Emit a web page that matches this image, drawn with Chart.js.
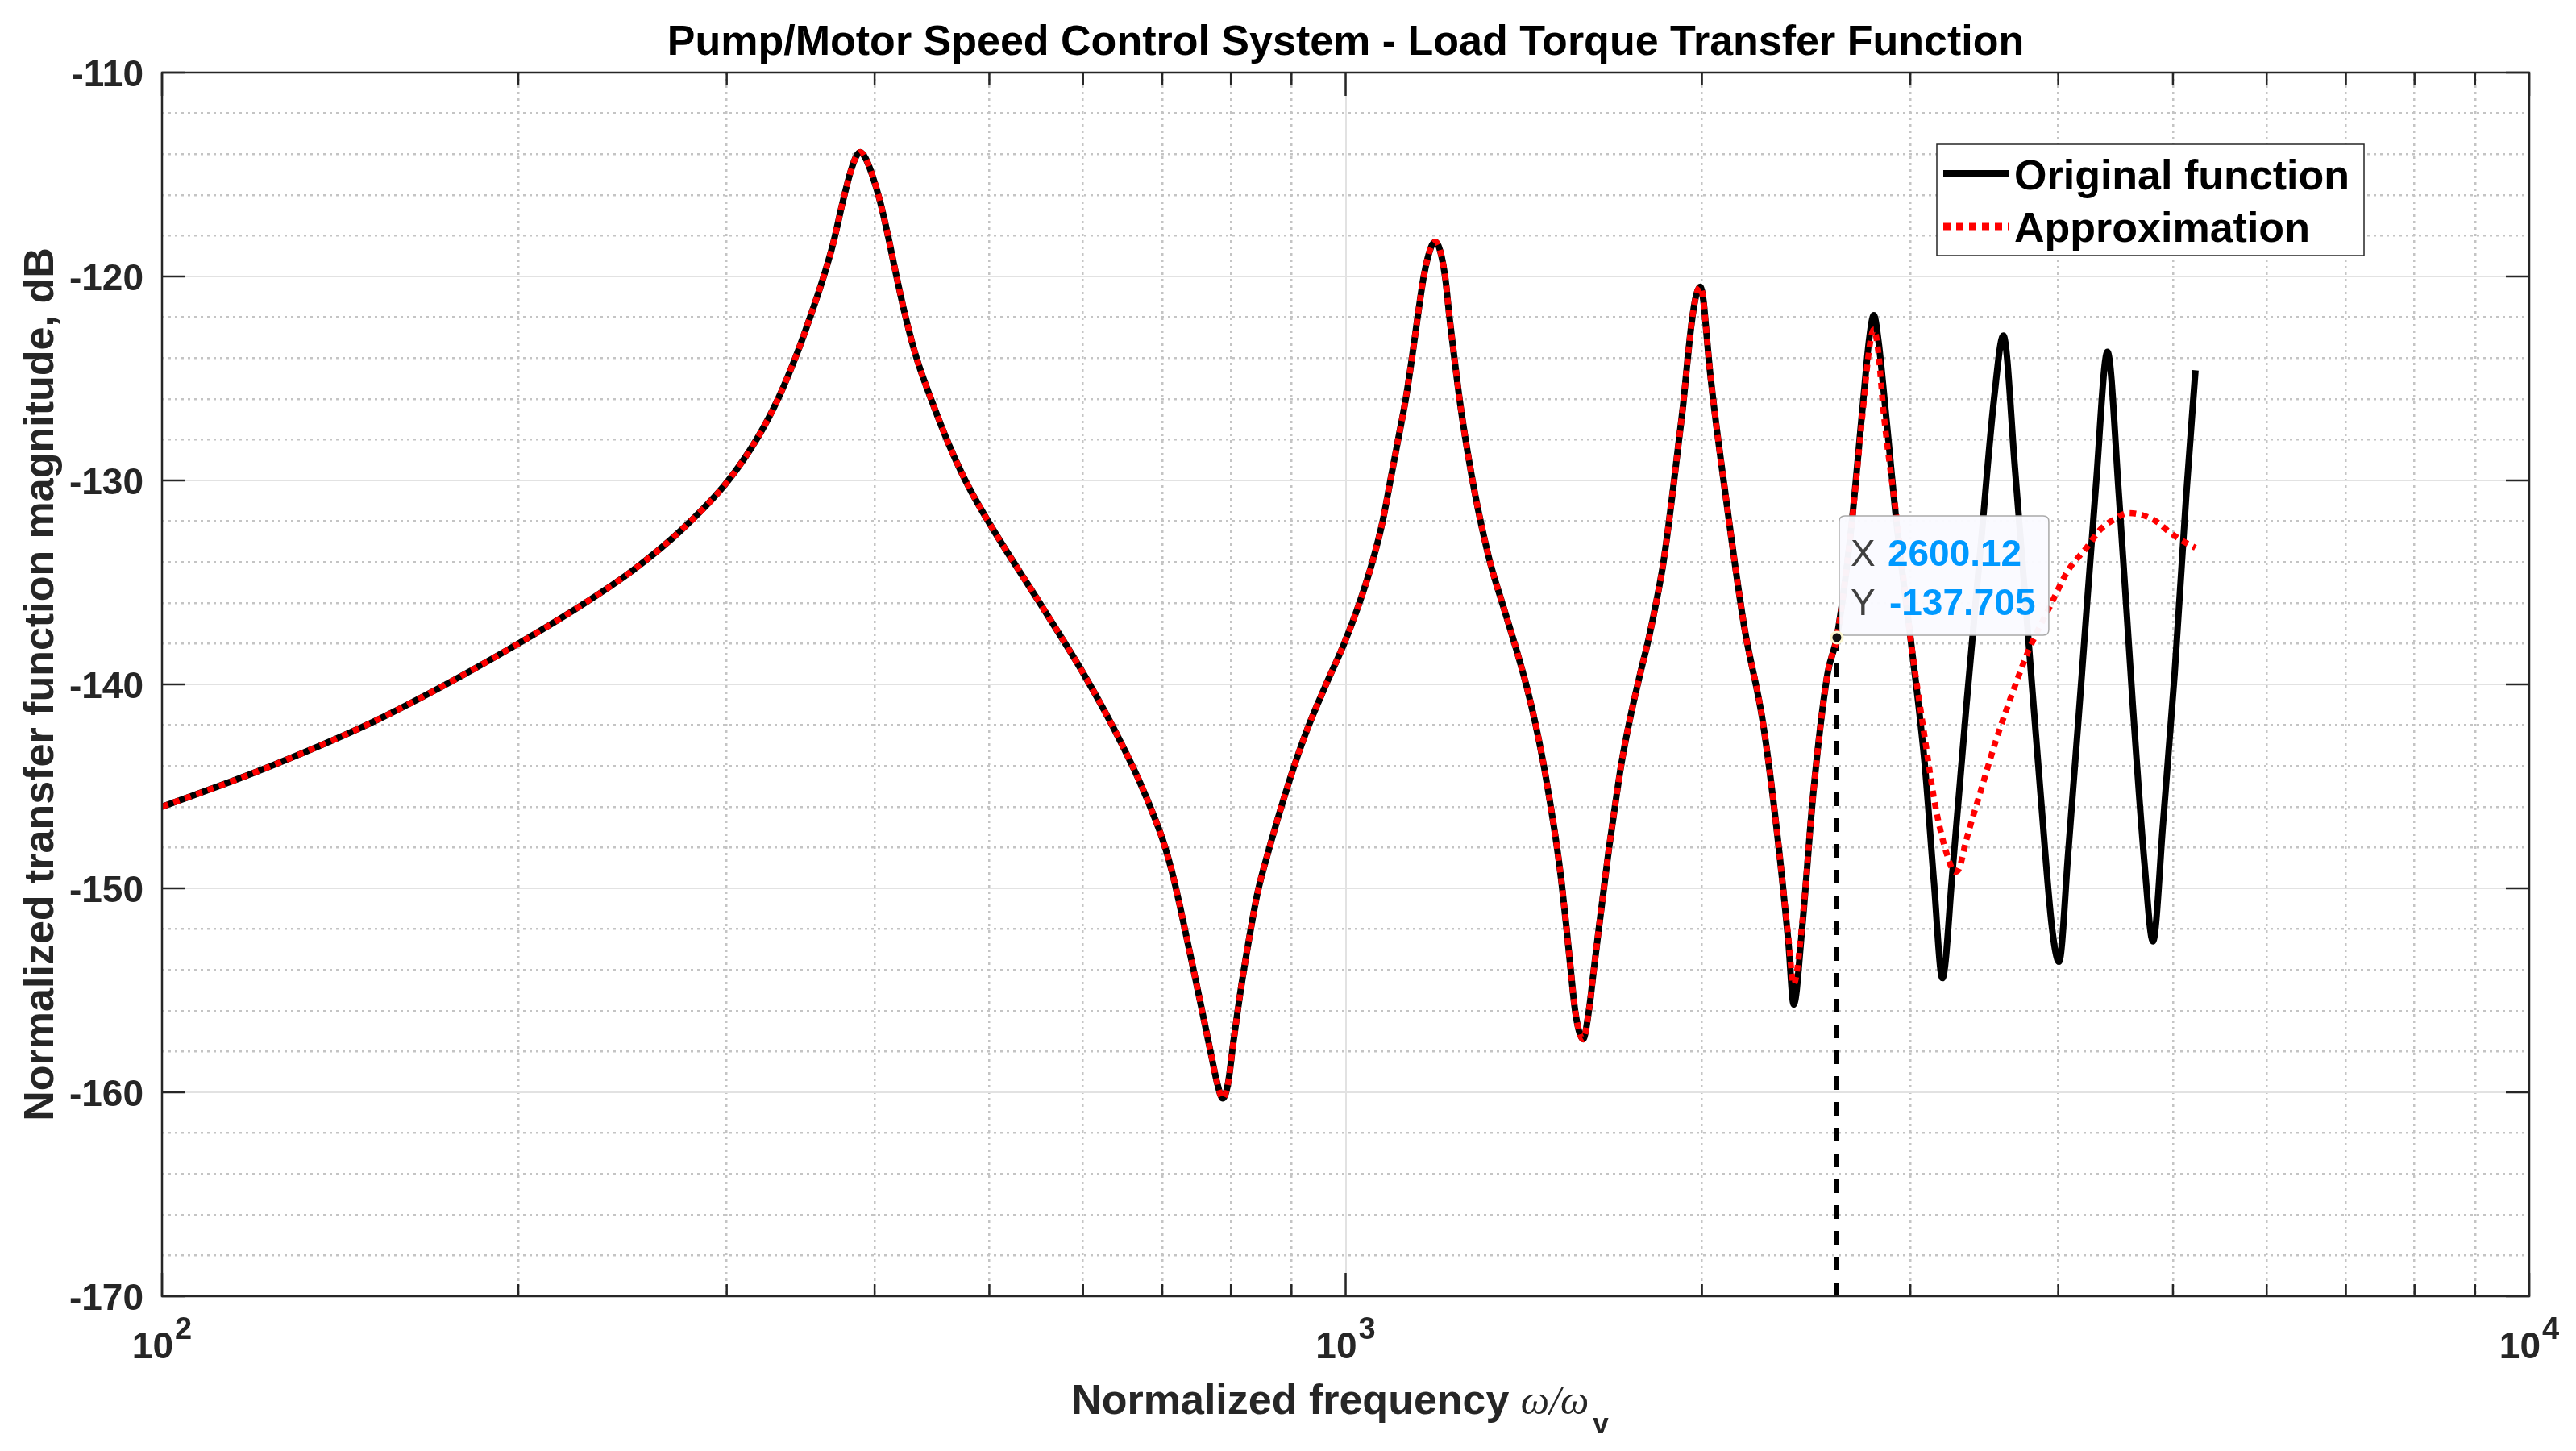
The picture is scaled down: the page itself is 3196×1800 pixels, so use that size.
<!DOCTYPE html>
<html><head><meta charset="utf-8">
<script src="https://cdn.jsdelivr.net/npm/chart.js@4.4.0/dist/chart.umd.min.js"></script>
<style>html,body{margin:0;padding:0;background:#fff;}canvas{display:block;}</style>
</head><body>
<canvas id="c" width="3196" height="1800"></canvas>
<script>
// ---------- texts ----------
const chartTitle = 'Pump/Motor Speed Control System - Load Torque Transfer Function';
const xLabelMain = 'Normalized frequency ';
const xLabelMath = '\u03C9/\u03C9';
const xLabelSub = 'v';
const yAxisLabel = 'Normalized transfer function magnitude, dB';
const seriesNames = ['Original function', 'Approximation'];

// ---------- axes ----------
const xMin = 100, xMax = 10000;
const yMin = -170, yMax = -110;
const xGrid = [100,200,300,400,500,600,700,800,900,1000,2000,3000,4000,5000,6000,7000,8000,9000,10000];
const xTickMajor = [100, 1000, 10000];
const xTickBase = ['10', '10', '10'];
const xTickExp = ['2', '3', '4'];
const yGrid = [-170,-168,-166,-164,-162,-160,-158,-156,-154,-152,-150,-148,-146,-144,-142,-140,-138,-136,-134,-132,-130,-128,-126,-124,-122,-120,-118,-116,-114,-112,-110];
const yTickValues = [-170,-160,-150,-140,-130,-120,-110];
const yTickLabels = ['-170','-160','-150','-140','-130','-120','-110'];

// ---------- data: original function ----------
const origFreq = [100,120,150,175,200,225,250,275,300,318.6,331.5,343.3,352.8,362.7,369.3,376.1,382,386,389,393,398,404.2,410.2,416,424.5,434,447.7,462.5,474,486.6,500.4,515.3,534.5,554.4,575.1,601.3,625.3,648.4,669,690.4,700.9,712.7,724,735.4,747,758.8,770.7,778.9,787.1,795.3,803.6,816.3,829.2,842.3,862.3,882.4,904.8,929.5,962.7,997,1027.3,1053.4,1074.7,1091,1107.5,1124.1,1137.7,1150.3,1164.1,1180,1191,1202,1214.1,1223.9,1236.2,1248.7,1267.7,1286.6,1303.5,1325.6,1359.3,1394,1422,1446.3,1468.4,1487.5,1507,1522,1535.8,1548.2,1563.6,1587,1606,1619,1635.5,1651.9,1668.6,1690.4,1711,1740,1771.6,1804,1829.5,1853.5,1872.3,1891,1910,1929,1942.5,1960,1978,1994,2006,2015,2032,2095,2172,2251,2312,2366,2391,2430,2484,2553,2600,2671,2733,2770,2794,2820,2858,2923,3002,3085,3141,3193,3257,3346,3438,3532,3595,3677,3778,3864,3953,4006,4079,4188,4305,4402,4502,4624,4731,4809,4905,5016,5130,5224];
const origMag = [-146.0,-144.3,-141.9,-139.9,-138.0,-136.2,-134.4,-132.4,-130.1,-127.9,-126.0,-123.9,-122.0,-119.9,-118.3,-116.3,-114.8,-114.1,-113.9,-114.2,-115.0,-116.3,-117.9,-119.6,-121.9,-124.0,-126.2,-128.28,-129.65,-130.92,-132.13,-133.33,-134.77,-136.21,-137.68,-139.53,-141.28,-143.04,-144.7,-146.61,-147.65,-149.1,-150.8,-152.65,-154.5,-156.4,-158.3,-159.55,-160.3,-159.6,-157.6,-154.8,-152.4,-150.25,-148.0,-146.0,-144.0,-142.1,-140.0,-138.0,-136.0,-134.0,-132.0,-130.0,-128.0,-126.0,-124.0,-122.0,-120.0,-118.6,-118.3,-118.75,-120.1,-122.0,-124.1,-126.1,-128.6,-130.7,-132.3,-134.1,-136.2,-138.3,-140.1,-141.9,-143.8,-145.7,-147.8,-149.7,-151.8,-153.8,-156.1,-157.4,-155.9,-154.2,-152.1,-150.1,-148.1,-145.8,-143.8,-141.6,-139.6,-137.7,-136.0,-134.2,-132.4,-130.4,-128.3,-126.2,-124.4,-122.3,-120.9,-120.5,-121.2,-122.4,-124.7,-130.8,-137.2,-141.8,-147.0,-152.6,-155.7,-152.0,-145.3,-139.5,-137.7,-132.6,-126.5,-123.0,-121.9,-123.2,-126.5,-132.3,-137.8,-143.9,-149.7,-154.4,-149.1,-141.0,-133.4,-125.9,-122.9,-129.4,-138.1,-145.3,-152.0,-153.6,-148.2,-139.5,-130.2,-123.7,-130.8,-141.0,-148.8,-152.6,-146.8,-139.5,-130.8,-124.6];

// ---------- data: approximation ----------
const approxFreq = [100,120,150,175,200,225,250,275,300,318.6,331.5,343.3,352.8,362.7,369.3,376.1,382,386,389,393,398,404.2,410.2,416,424.5,434,447.7,462.5,474,486.6,500.4,515.3,534.5,554.4,575.1,601.3,625.3,648.4,669,690.4,700.9,712.7,724,735.4,747,758.8,770.7,778.9,787.1,795.3,803.6,816.3,829.2,842.3,862.3,882.4,904.8,929.5,962.7,997,1027.3,1053.4,1074.7,1091,1107.5,1124.1,1137.7,1150.3,1164.1,1180,1191,1202,1214.1,1223.9,1236.2,1248.7,1267.7,1286.6,1303.5,1325.6,1359.3,1394,1422,1446.3,1468.4,1487.5,1507,1522,1535.8,1548.2,1563.6,1587,1606,1619,1635.5,1651.9,1668.6,1690.4,1711,1740,1771.6,1804,1829.5,1853.5,1872.3,1891,1910,1929,1942.5,1960,1978,1994,2006,2015,2032,2095,2172,2251,2312,2366,2391,2430,2484,2553,2600,2671,2733,2770,2794,2820,2846,2923,3002,3085,3155,3241,3271,3300,3346,3437,3546,3660,3778,3934,4079,4227,4343,4462,4584,4710,4838,4971,5107,5224];
const approxMag = [-146.0,-144.3,-141.9,-139.9,-138.0,-136.2,-134.4,-132.4,-130.1,-127.9,-126.0,-123.9,-122.0,-119.9,-118.3,-116.3,-114.8,-114.1,-113.9,-114.2,-115.0,-116.3,-117.9,-119.6,-121.9,-124.0,-126.2,-128.28,-129.65,-130.92,-132.13,-133.33,-134.77,-136.21,-137.68,-139.53,-141.28,-143.04,-144.7,-146.61,-147.65,-149.1,-150.8,-152.65,-154.5,-156.4,-158.3,-159.55,-160.3,-159.6,-157.6,-154.8,-152.4,-150.25,-148.0,-146.0,-144.0,-142.1,-140.0,-138.0,-136.0,-134.0,-132.0,-130.0,-128.0,-126.0,-124.0,-122.0,-120.0,-118.6,-118.3,-118.75,-120.1,-122.0,-124.1,-126.1,-128.6,-130.7,-132.3,-134.1,-136.2,-138.3,-140.1,-141.9,-143.8,-145.7,-147.8,-149.7,-151.8,-153.8,-156.1,-157.4,-155.9,-154.2,-152.1,-150.1,-148.1,-145.8,-143.8,-141.6,-139.6,-137.7,-136.0,-134.2,-132.4,-130.4,-128.3,-126.2,-124.4,-122.3,-120.9,-120.5,-121.2,-122.4,-124.7,-130.8,-137.2,-141.8,-147.0,-152.4,-154.7,-151.8,-145.3,-139.5,-137.7,-132.6,-126.8,-123.5,-122.6,-123.8,-126.5,-132.0,-137.8,-142.6,-146.2,-148.8,-149.2,-149.0,-147.6,-145.3,-142.7,-140.4,-138.3,-136.2,-134.4,-133.3,-132.4,-131.9,-131.6,-131.7,-132.0,-132.55,-133.0,-133.3];

// ---------- data tip ----------
const tipX = 2600.12;
const tipY = -137.705;
const tipTexts = ['2600.12', '-137.705'];

const FONT = '"Liberation Sans", Arial, sans-serif';

const decor = {
  id: 'decor',
  afterDraw(chart) {
    const ctx = chart.ctx, a = chart.chartArea;
    const xs = chart.scales.x, ys = chart.scales.y;
    ctx.save();
    // frame
    ctx.strokeStyle = '#262626';
    ctx.lineWidth = 2.5;
    ctx.strokeRect(a.left, a.top, a.right - a.left, a.bottom - a.top);
    // tick marks
    ctx.beginPath();
    xGrid.forEach(v => {
      const px = xs.getPixelForValue(v);
      const len = xTickMajor.includes(v) ? 29 : 15;
      ctx.moveTo(px, a.bottom); ctx.lineTo(px, a.bottom - len);
      ctx.moveTo(px, a.top); ctx.lineTo(px, a.top + len);
    });
    yTickValues.forEach(v => {
      const py = ys.getPixelForValue(v);
      ctx.moveTo(a.left, py); ctx.lineTo(a.left + 29, py);
      ctx.moveTo(a.right, py); ctx.lineTo(a.right - 29, py);
    });
    ctx.stroke();

    // y tick labels
    ctx.fillStyle = '#262626';
    ctx.font = 'bold 46px ' + FONT;
    ctx.textAlign = 'right';
    ctx.textBaseline = 'alphabetic';
    yTickValues.forEach((v, i) => {
      const py = ys.getPixelForValue(v);
      ctx.fillText(yTickLabels[i], a.left - 23, py + 17);
    });
    // x tick labels with superscripts
    ctx.textAlign = 'left';
    xTickMajor.forEach((v, i) => {
      const px = xs.getPixelForValue(v);
      ctx.font = 'bold 46px ' + FONT;
      const wb = ctx.measureText(xTickBase[i]).width;
      ctx.font = 'bold 38px ' + FONT;
      const we = ctx.measureText(xTickExp[i]).width;
      const x0 = px - (wb + 2 + we) / 2;
      ctx.font = 'bold 46px ' + FONT;
      ctx.fillText(xTickBase[i], x0, a.bottom + 77);
      ctx.font = 'bold 38px ' + FONT;
      ctx.fillText(xTickExp[i], x0 + wb + 2, a.bottom + 53);
    });

    // title
    ctx.fillStyle = '#000';
    ctx.font = 'bold 52px ' + FONT;
    ctx.textAlign = 'center';
    ctx.fillText(chartTitle, (a.left + a.right) / 2, 68);

    // x axis label
    ctx.fillStyle = '#262626';
    ctx.textAlign = 'left';
    const mathFont = 'italic 50px "Liberation Serif", "DejaVu Serif", serif';
    ctx.font = 'bold 52px ' + FONT;
    const w1 = ctx.measureText(xLabelMain).width;
    ctx.font = mathFont;
    const w2 = ctx.measureText(xLabelMath).width;
    ctx.font = 'bold 35px ' + FONT;
    const w3 = ctx.measureText(xLabelSub).width;
    const gap = 5;
    const total = w1 + w2 + gap + w3;
    const lx = (a.left + a.right) / 2 - 7 - total / 2;
    ctx.font = 'bold 52px ' + FONT;
    ctx.fillText(xLabelMain, lx, a.bottom + 146);
    ctx.font = mathFont;
    ctx.fillText(xLabelMath, lx + w1, a.bottom + 146);
    ctx.font = 'bold 35px ' + FONT;
    ctx.fillText(xLabelSub, lx + w1 + w2 + gap, a.bottom + 170);

    // y axis label
    ctx.save();
    ctx.translate(66, (a.top + a.bottom) / 2);
    ctx.rotate(-Math.PI / 2);
    ctx.textAlign = 'center';
    ctx.font = 'bold 52px ' + FONT;
    ctx.fillText(yAxisLabel, 0, 0);
    ctx.restore();

    // legend
    const lb = { l: 2403, t: 179, r: 2933, b: 317 };
    ctx.fillStyle = '#fff';
    ctx.fillRect(lb.l, lb.t, lb.r - lb.l, lb.b - lb.t);
    ctx.strokeStyle = '#262626';
    ctx.lineWidth = 1.5;
    ctx.strokeRect(lb.l, lb.t, lb.r - lb.l, lb.b - lb.t);
    const dsO = chart.data.datasets[1], dsA = chart.data.datasets[0];
    ctx.lineCap = 'butt';
    ctx.strokeStyle = dsO.borderColor; ctx.lineWidth = 8; ctx.setLineDash([]);
    ctx.beginPath(); ctx.moveTo(2411, 215); ctx.lineTo(2492, 215); ctx.stroke();
    ctx.strokeStyle = dsA.borderColor; ctx.lineWidth = 9; ctx.setLineDash([9, 7]);
    ctx.beginPath(); ctx.moveTo(2411, 281); ctx.lineTo(2492, 281); ctx.stroke();
    ctx.setLineDash([]);
    ctx.fillStyle = '#000';
    ctx.font = 'bold 52px ' + FONT;
    ctx.textAlign = 'left';
    ctx.fillText(dsO.label, 2499, 235);
    ctx.fillText(dsA.label, 2499, 300);

    // data tip
    const px = xs.getPixelForValue(tipX), py = ys.getPixelForValue(tipY);
    const bl = px + 3, bw = 260, bh = 148, bt = py - 3 - bh, r = 7;
    ctx.beginPath();
    ctx.moveTo(bl + r, bt);
    ctx.lineTo(bl + bw - r, bt); ctx.quadraticCurveTo(bl + bw, bt, bl + bw, bt + r);
    ctx.lineTo(bl + bw, bt + bh - r); ctx.quadraticCurveTo(bl + bw, bt + bh, bl + bw - r, bt + bh);
    ctx.lineTo(bl + r, bt + bh); ctx.quadraticCurveTo(bl, bt + bh, bl, bt + bh - r);
    ctx.lineTo(bl, bt + r); ctx.quadraticCurveTo(bl, bt, bl + r, bt);
    ctx.closePath();
    ctx.fillStyle = 'rgba(250,250,255,0.97)';
    ctx.fill();
    ctx.strokeStyle = '#a9a9a9';
    ctx.lineWidth = 1.5;
    ctx.stroke();
    ctx.fillStyle = '#404040';
    ctx.font = '46px ' + FONT;
    ctx.fillText('X', bl + 14, bt + 62);
    ctx.fillText('Y', bl + 14, bt + 123);
    ctx.fillStyle = '#0099ff';
    ctx.font = 'bold 46px ' + FONT;
    ctx.fillText(tipTexts[0], bl + 60, bt + 62);
    ctx.fillText(tipTexts[1], bl + 62, bt + 123);
    // marker
    ctx.beginPath();
    ctx.arc(px, py, 7, 0, Math.PI * 2);
    ctx.fillStyle = '#111';
    ctx.fill();
    ctx.strokeStyle = '#fbf6cf';
    ctx.lineWidth = 3;
    ctx.stroke();
    ctx.restore();
  }
};

const isMajorX = c => c.tick && xTickMajor.includes(c.tick.value);
const isMajorY = c => c.tick && Math.abs(c.tick.value % 10) < 1e-9;

new Chart(document.getElementById('c'), {
  type: 'line',
  data: {
    datasets: [
      { label: seriesNames[1], data: approxFreq.map((f, i) => ({ x: f, y: approxMag[i] })),
        borderColor: '#ff0000', borderWidth: 7.5, borderDash: [8, 7], borderCapStyle: 'butt',
        pointRadius: 0, cubicInterpolationMode: 'monotone', fill: false, order: 0 },
      { label: seriesNames[0], data: origFreq.map((f, i) => ({ x: f, y: origMag[i] })),
        borderColor: '#000000', borderWidth: 8, borderJoinStyle: 'round',
        pointRadius: 0, cubicInterpolationMode: 'monotone', fill: false, order: 1 },
      { label: 'datatip', data: [{ x: tipX, y: tipY }, { x: tipX, y: yMin }],
        borderColor: '#000000', borderWidth: 6, borderDash: [17, 15],
        pointRadius: 0, fill: false, order: 2 }
    ]
  },
  options: {
    responsive: false, animation: false, devicePixelRatio: 1, events: [],
    layout: { padding: { left: 201, top: 90, right: 58, bottom: 192 } },
    plugins: { legend: { display: false }, tooltip: { enabled: false }, title: { display: false } },
    scales: {
      x: {
        type: 'logarithmic', min: xMin, max: xMax,
        afterBuildTicks: s => { s.ticks = xGrid.map(v => ({ value: v, major: xTickMajor.includes(v) })); },
        ticks: { display: false },
        grid: { drawTicks: false, color: c => isMajorX(c) ? '#e2e2e2' : '#c4c4c4', lineWidth: c => isMajorX(c) ? 2 : 2.5 },
        border: { display: false, dash: c => isMajorX(c) ? [] : [3, 5] }
      },
      y: {
        type: 'linear', min: yMin, max: yMax,
        afterBuildTicks: s => { s.ticks = yGrid.map(v => ({ value: v })); },
        ticks: { display: false },
        grid: { drawTicks: false, color: c => isMajorY(c) ? '#e2e2e2' : '#c4c4c4', lineWidth: c => isMajorY(c) ? 2 : 2.5 },
        border: { display: false, dash: c => isMajorY(c) ? [] : [3, 5] }
      }
    }
  },
  plugins: [decor]
});
</script>
</body></html>
